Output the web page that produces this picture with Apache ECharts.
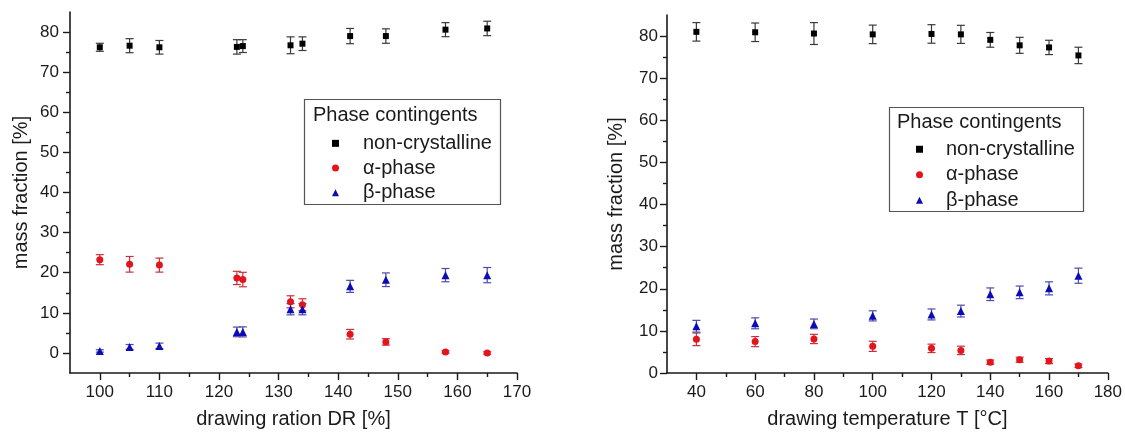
<!DOCTYPE html>
<html>
<head>
<meta charset="utf-8">
<script src="https://cdn.jsdelivr.net/npm/echarts@6/dist/echarts.min.js"></script>
<style>
html,body{margin:0;padding:0;background:#fff;}
#c{width:1125px;height:435px;}
</style>
</head>
<body>
<div id="c"></div>
<script>
// ---- Left chart: drawing ratio DR [%]
const drX = [100, 105, 110, 123, 124, 132, 134, 142, 148, 158, 165];
const drNonCryst = [76.2, 76.6, 76.2, 76.3, 76.5, 76.7, 77.1, 79.0, 79.0, 80.6, 80.9];
const drNonCrystErr = [1.0, 1.75, 1.7, 1.8, 1.6, 2.1, 1.7, 1.9, 1.8, 1.75, 1.8];
const drAlpha = [23.25, 22.1, 21.9, 18.7, 18.3, 12.75, 12.0, 4.67, 2.75, 0.25, 0.0];
const drAlphaErr = [1.25, 1.95, 1.75, 1.65, 1.8, 1.5, 1.5, 1.2, 0.8, 0.3, 0.3];
const drBeta = [0.5, 1.5, 1.75, 5.25, 5.25, 10.9, 10.9, 16.6, 18.25, 19.4, 19.4];
const drBetaErr = [0.3, 0.6, 0.7, 1.2, 1.25, 1.4, 1.4, 1.5, 1.7, 1.65, 1.9];

// ---- Right chart: drawing temperature T [°C]
const tX = [40, 60, 80, 100, 120, 130, 140, 150, 160, 170];
const tNonCryst = [81.0, 80.9, 80.6, 80.4, 80.5, 80.4, 79.1, 77.8, 77.3, 75.4];
const tNonCrystErr = [2.2, 2.2, 2.6, 2.2, 2.2, 2.15, 1.75, 1.9, 1.7, 1.95];
const tAlpha = [8.0, 7.45, 8.08, 6.33, 5.85, 5.37, 2.58, 3.15, 2.82, 1.72];
const tAlphaErr = [1.5, 1.2, 1.1, 1.2, 1.0, 1.0, 0.5, 0.6, 0.6, 0.4];
const tBeta = [11.1, 11.8, 11.66, 13.57, 13.9, 14.7, 18.7, 19.15, 20.1, 23.1];
const tBetaErr = [1.4, 1.3, 1.15, 1.2, 1.3, 1.4, 1.5, 1.5, 1.55, 1.8];

// ---- Tick labels / tick positions
const drXMajor = [100, 110, 120, 130, 140, 150, 160, 170];
const drXMinor = [105, 115, 125, 135, 145, 155, 165];
const drYMajor = [0, 10, 20, 30, 40, 50, 60, 70, 80];
const drYMinor = [5, 15, 25, 35, 45, 55, 65, 75];
const tXMajor = [40, 60, 80, 100, 120, 140, 160, 180];
const tXMinor = [50, 70, 90, 110, 130, 150, 170];
const tYMajor = [0, 10, 20, 30, 40, 50, 60, 70, 80];
const tYMinor = [5, 15, 25, 35, 45, 55, 65, 75];

const seriesNames = ['non-crystalline', '\u03b1-phase', '\u03b2-phase'];
const legendTitle = 'Phase contingents';
const xTitleLeft = 'drawing ration DR [%]';
const xTitleRight = 'drawing temperature T [\u00b0C]';
const yTitle = 'mass fraction [%]';

const FONT = '"Liberation Sans", Arial, sans-serif';
const colBlack = '#000000', colRed = '#e3141c', colBlue = '#0c0cb4';
const errBlack = '#3a3a3a', errRed = '#c8303c', errBlue = '#4a4ab0';

function pts(xs, ys) { return xs.map((x, i) => [x, ys[i]]); }
function errPts(xs, ys, es) { return xs.map((x, i) => [x, ys[i], es[i]]); }

function errSeries(xi, yi, data, color) {
  return {
    type: 'custom', xAxisIndex: xi, yAxisIndex: yi, silent: true, z: 1,
    data: data,
    renderItem: function (params, api) {
      const x = api.value(0), y = api.value(1), e = api.value(2);
      const top = api.coord([x, y + e]);
      const bot = api.coord([x, y - e]);
      const w = 4;
      const st = { stroke: color, lineWidth: 1.2 };
      return {
        type: 'group',
        children: [
          { type: 'line', shape: { x1: top[0], y1: top[1], x2: bot[0], y2: bot[1] }, style: st },
          { type: 'line', shape: { x1: top[0] - w, y1: top[1], x2: top[0] + w, y2: top[1] }, style: st },
          { type: 'line', shape: { x1: bot[0] - w, y1: bot[1], x2: bot[0] + w, y2: bot[1] }, style: st }
        ]
      };
    }
  };
}

function scat(name, xi, yi, data, symbol, size, color) {
  return {
    name: name, type: 'scatter', xAxisIndex: xi, yAxisIndex: yi, z: 3,
    symbol: symbol, symbolSize: size, itemStyle: { color: color, opacity: 1 },
    data: data
  };
}

const axLine = { show: true, onZero: false, lineStyle: { color: '#1a1a1a', width: 1.6 } };
const labelStyle = { fontSize: 17, fontFamily: FONT, color: '#1a1a1a' };
const nameStyle = { fontSize: 20, fontFamily: FONT, color: '#1a1a1a' };

function mainAxis(grid, min, max, interval, major, extra) {
  return Object.assign({
    type: 'value', gridIndex: grid, min: min, max: max, interval: interval,
    splitLine: { show: false },
    axisLine: axLine,
    axisTick: { show: true, inside: false, length: 7, customValues: major, lineStyle: { color: '#1a1a1a', width: 1.4 } },
    axisLabel: Object.assign({ customValues: major }, labelStyle)
  }, extra);
}
function minorAxis(grid, min, max, interval, minor, extra) {
  return Object.assign({
    type: 'value', gridIndex: grid, min: min, max: max, interval: interval,
    splitLine: { show: false },
    axisLine: { show: false, onZero: false },
    axisTick: { show: true, inside: false, length: 4, customValues: minor, lineStyle: { color: '#1a1a1a', width: 1.4 } },
    axisLabel: { show: false }
  }, extra);
}

const option = {
  backgroundColor: '#ffffff',
  animation: false,
  grid: [
    { left: 70, right: 608, top: 12, bottom: 62 },
    { left: 667, right: 16, top: 15, bottom: 62 }
  ],
  xAxis: [
    mainAxis(0, 95, 170, 5, drXMajor, { position: 'bottom', name: xTitleLeft, nameLocation: 'middle', nameGap: 36, nameTextStyle: nameStyle, axisLabel: Object.assign({ customValues: drXMajor, margin: 11 }, labelStyle) }),
    minorAxis(0, 95, 170, 5, drXMinor, { position: 'bottom' }),
    mainAxis(1, 30, 180, 10, tXMajor, { position: 'bottom', name: xTitleRight, nameLocation: 'middle', nameGap: 36, nameTextStyle: nameStyle, axisLabel: Object.assign({ customValues: tXMajor, margin: 11 }, labelStyle) }),
    minorAxis(1, 30, 180, 10, tXMinor, { position: 'bottom' })
  ],
  yAxis: [
    mainAxis(0, -5, 85, 5, drYMajor, { position: 'left', name: yTitle, nameLocation: 'middle', nameGap: 39, nameTextStyle: nameStyle, axisLabel: Object.assign({ customValues: drYMajor, margin: 11 }, labelStyle) }),
    minorAxis(0, -5, 85, 5, drYMinor, { position: 'left' }),
    mainAxis(1, 0, 85, 5, tYMajor, { position: 'left', name: yTitle, nameLocation: 'middle', nameGap: 41, nameTextStyle: nameStyle, axisLabel: Object.assign({ customValues: tYMajor, margin: 9 }, labelStyle) }),
    minorAxis(1, 0, 85, 5, tYMinor, { position: 'left' })
  ],
  legend: [
    {
      orient: 'vertical', left: 327, top: 127, itemWidth: 7, itemHeight: 7, itemGap: 2,
      data: seriesNames,
      textStyle: { fontSize: 20, fontFamily: FONT, color: '#1a1a1a', lineHeight: 22.7, padding: [0, 0, 0, 19] },
      selectedMode: false
    },
    {
      orient: 'vertical', left: 911, top: 133, itemWidth: 7, itemHeight: 7, itemGap: 3,
      data: seriesNames,
      textStyle: { fontSize: 20, fontFamily: FONT, color: '#1a1a1a', lineHeight: 22.5, padding: [0, 0, 0, 18] },
      selectedMode: false
    }
  ],
  graphic: [
    { type: 'rect', shape: { x: 304.5, y: 99.5, width: 196, height: 105 }, style: { fill: 'none', stroke: '#555', lineWidth: 1.2 }, z: 10 },
    { type: 'text', x: 313, y: 115, style: { text: legendTitle, fontSize: 20, fontFamily: FONT, fill: '#1a1a1a', verticalAlign: 'middle' }, z: 10 },
    { type: 'rect', shape: { x: 889.5, y: 107.5, width: 194, height: 104 }, style: { fill: 'none', stroke: '#555', lineWidth: 1.2 }, z: 10 },
    { type: 'text', x: 897, y: 122.5, style: { text: legendTitle, fontSize: 20, fontFamily: FONT, fill: '#1a1a1a', verticalAlign: 'middle' }, z: 10 }
  ],
  series: [
    errSeries(0, 0, errPts(drX, drNonCryst, drNonCrystErr), errBlack),
    errSeries(0, 0, errPts(drX, drAlpha, drAlphaErr), errRed),
    errSeries(0, 0, errPts(drX, drBeta, drBetaErr), errBlue),
    scat(seriesNames[0], 0, 0, pts(drX, drNonCryst), 'rect', 6, colBlack),
    scat(seriesNames[1], 0, 0, pts(drX, drAlpha), 'circle', 7, colRed),
    scat(seriesNames[2], 0, 0, pts(drX, drBeta), 'triangle', 8, colBlue),
    errSeries(2, 2, errPts(tX, tNonCryst, tNonCrystErr), errBlack),
    errSeries(2, 2, errPts(tX, tAlpha, tAlphaErr), errRed),
    errSeries(2, 2, errPts(tX, tBeta, tBetaErr), errBlue),
    scat(seriesNames[0], 2, 2, pts(tX, tNonCryst), 'rect', 6, colBlack),
    scat(seriesNames[1], 2, 2, pts(tX, tAlpha), 'circle', 7, colRed),
    scat(seriesNames[2], 2, 2, pts(tX, tBeta), 'triangle', 8, colBlue)
  ]
};

const chart = echarts.init(document.getElementById('c'), null, { renderer: 'canvas' });
chart.setOption(option);
</script>
</body>
</html>
